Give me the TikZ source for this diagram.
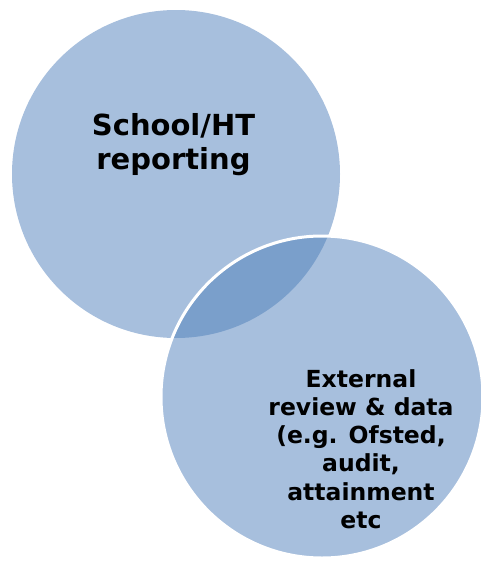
\documentclass[tikz,border=0pt]{standalone}
\usepackage{fontspec}
\setmainfont{DejaVu Sans}
\usepackage{xcolor}
\usepackage{tikz}

\definecolor{vennfill}{HTML}{A7BFDD}
\definecolor{vennlens}{HTML}{7A9FCB}

\begin{document}
\begin{tikzpicture}[x=1pt,y=-1pt,
		venn/.style={circle,fill=vennfill,inner sep=0pt,minimum size=#1},
		label/.style={align=center,font=\bfseries}]
		\useasboundingbox (0,0) rectangle (481,562);
		\node[venn=328pt] (S) at (176,174) {};
		\node[venn=322pt] (E) at (322,397) {};
		%
		\begin{scope}
		\clip (S.center) circle (164pt);
		\fill[vennlens] (E.center) circle (161pt);
		\end{scope}
		\draw[white,line width=3pt] (E.center) circle (161pt);
		%
		\node[label,font=\bfseries\fontsize{29}{34}\selectfont] (S') at (173.5,145) {School/HT\\reporting};
		\node[label,font=\bfseries\fontsize{23.5}{28.2}\selectfont] (E') at (361,449) {External\\review \& data\\(e.g. Ofsted,\\audit,\\attainment\\etc};
		\end{tikzpicture}
\end{document}
